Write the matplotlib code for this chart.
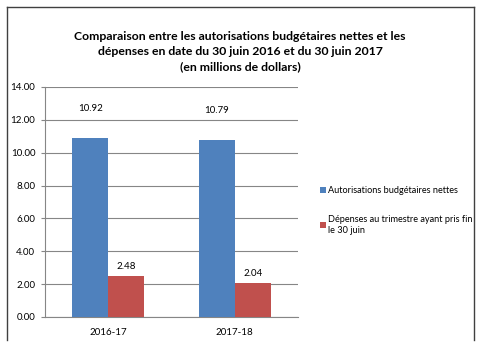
import matplotlib.pyplot as plt
from matplotlib.lines import Line2D
import numpy as np

# Data
categories = ['2016-17', '2017-18']
autorisations = [10.92, 10.79]
depenses = [2.48, 2.04]
series_names = ['Autorisations budgétaires nettes',
                'Dépenses au trimestre ayant pris fin\nle 30 juin']
title = ('Comparaison entre les autorisations budgétaires nettes et les\n'
         'dépenses en date du 30 juin 2016 et du 30 juin 2017\n'
         '(en millions de dollars)')

plt.rcParams['font.family'] = ['Lato', 'DejaVu Sans']

fig = plt.figure(figsize=(4.8, 3.52), dpi=100)
W, H = 480, 352
ax = fig.add_axes([45 / W, 1 - 317 / H, (298 - 45) / W, (317 - 87) / H])

x = np.arange(len(categories))
bw = 0.285
b1 = ax.bar(x - bw / 2, autorisations, bw, color='#4F81BD', label=series_names[0], zorder=3)
b2 = ax.bar(x + bw / 2, depenses, bw, color='#C0504D', label=series_names[1], zorder=3)

# value labels
for rect, v in zip(b1, autorisations):
    ax.annotate(f'{v:.2f}', (rect.get_x() + rect.get_width() / 2, v), xytext=(0, 18),
                textcoords='offset points', ha='center', va='bottom', fontsize=7)
for rect, v in zip(b2, depenses):
    ax.annotate(f'{v:.2f}', (rect.get_x() + rect.get_width() / 2, v), xytext=(0, 4),
                textcoords='offset points', ha='center', va='bottom', fontsize=7)

ax.set_xlim(-0.5, 1.5)
ax.set_ylim(0, 14)
ax.set_yticks(np.arange(0, 14.01, 2))
ax.set_yticklabels([f'{t:.2f}' for t in np.arange(0, 14.01, 2)], fontsize=7)
ax.set_xticks(x)
ax.set_xticklabels(categories, fontsize=7)
ax.tick_params(axis='x', length=0, pad=8)
ax.tick_params(axis='y', length=3, color='#868686', pad=4)
ax.grid(axis='y', color='#868686', linewidth=0.8, zorder=0)
for s in ['top', 'right']:
    ax.spines[s].set_visible(False)
ax.spines['left'].set_color('#868686')
ax.spines['bottom'].set_color('#868686')

fig.text(0.5, 1 - 31 / H, title, ha='center', va='top', fontsize=8.8,
         fontweight='bold', linespacing=1.45)

leg = fig.legend(handles=[b1, b2], labels=series_names, loc='upper left',
                 bbox_to_anchor=(312 / W, 1 - 178 / H), frameon=False, fontsize=6.6,
                 handlelength=0.6, handleheight=0.6, handletextpad=0.3, labelspacing=2.2)

# outer frame (bottom edge falls outside the picture)
for xs, ys in [([7 / W, 7 / W], [1 - 7 / H, 1 - 340 / H]),
               ([474 / W, 474 / W], [1 - 7 / H, 1 - 340 / H]),
               ([7 / W, 474 / W], [1 - 7 / H, 1 - 7 / H])]:
    fig.add_artist(Line2D(xs, ys, color='#404040', linewidth=1))

fig.savefig('out.png', dpi=100)
